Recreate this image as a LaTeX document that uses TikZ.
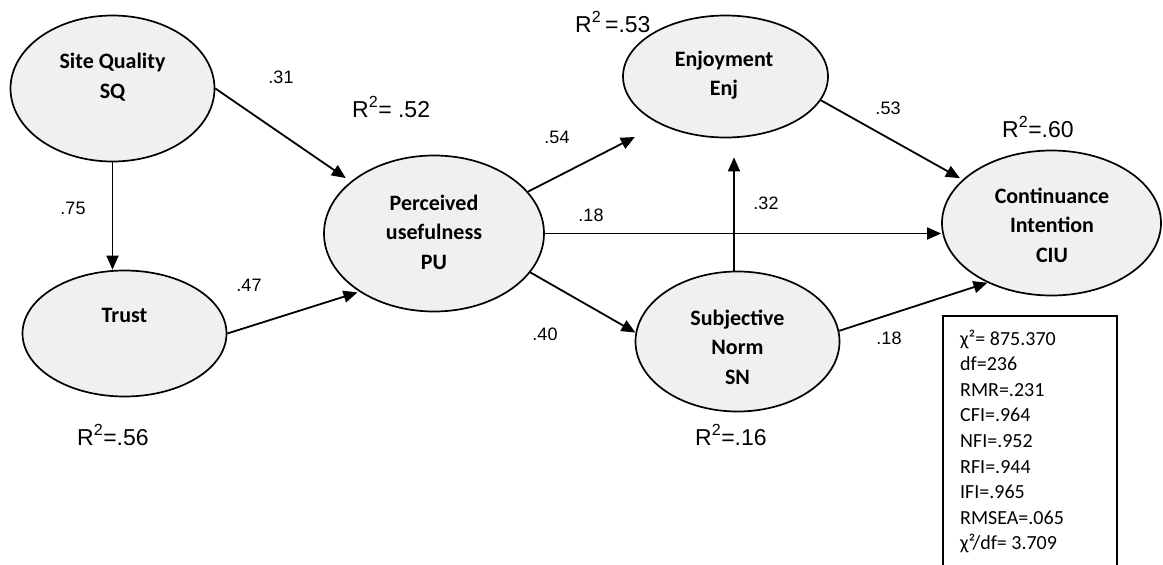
\documentclass[tikz,border=0pt]{standalone}
\usepackage{fontspec}
\setmainfont{Carlito}
\newfontfamily\arialf{Liberation Sans}
\usetikzlibrary{shapes.geometric,arrows.meta}
\begin{document}
\begin{tikzpicture}[x=1pt,y=-1pt,
  ell/.style={ellipse,draw,line width=1.7pt,fill=black!6,inner sep=0pt},
  etext/.style={font=\fontsize{22}{29.5}\selectfont\bfseries,align=center,inner sep=0pt},
  coef/.style={font=\arialf\fontsize{18}{20}\selectfont,inner sep=0pt},
  rsq/.style={font=\arialf\fontsize{23}{25}\selectfont,inner sep=0pt,anchor=base west},
  arr/.style={line width=1.8pt,-{Triangle[length=14pt,width=12pt]}}]
\useasboundingbox (0,0) rectangle (1163,565);

% latent variables
\node[ell,minimum width=204pt,minimum height=146pt] (sq) at (112.5,88.5) {};
\node[ell,minimum width=204pt,minimum height=126pt] (trust) at (124.5,333.5) {};
\node[ell,minimum width=220pt,minimum height=156pt] (pu) at (434,233.5) {};
\node[ell,minimum width=205pt,minimum height=122pt] (enj) at (725.5,76.5) {};
\node[ell,minimum width=219pt,minimum height=145pt] (ciu) at (1051.5,223) {};
\node[ell,minimum width=204pt,minimum height=140pt] (sn) at (737.5,341.5) {};

% their labels
\node[etext] (sqt) at (112.5,77) {Site Quality\\SQ};
\node[etext] (trustt) at (124.5,315) {Trust};
\node[etext] (put) at (434,232) {Perceived\\usefulness\\PU};
\node[etext] (enjt) at (724,75) {Enjoyment\\Enj};
\node[etext] (ciut) at (1052,225) {Continuance\\Intention\\CIU};
\node[etext] (snt) at (737.5,347) {Subjective\\Norm\\SN};

% paths
\draw[arr] (sq.south) -- (sq.south |- trust.north);
\draw[arr,shorten >=6pt] (sq.east) -- (pu.148);
\draw[arr,shorten >=2pt] (trust.east) -- (pu.218);
\draw[arr,shorten >=28pt] (pu.24) -- (enj.216);
\draw[arr] (pu.east) -- (pu.east -| ciu.west);
\draw[arr] (pu.338) -- (sn.175);
\draw[arr,shorten >=19pt] ([xshift=-3.5pt]sn.north) -- ([xshift=-3.5pt]sn.north |- enj.south);
\draw[arr,shorten >=3pt] (enj.346) -- (ciu.154);
\draw[arr] (sn.6) -- (ciu.223);

% path coefficients
\node[coef] (c31) at (281,77) {.31};
\node[coef] (c75) at (73,208) {.75};
\node[coef] (c47) at (249,285) {.47};
\node[coef] (c54) at (557,137) {.54};
\node[coef] (c18a) at (591,215) {.18};
\node[coef] (c32) at (766,203) {.32};
\node[coef] (c40) at (545,334) {.40};
\node[coef] (c53) at (888,108) {.53};
\node[coef] (c18b) at (889,338) {.18};

% R squared
\node[rsq] (r52) at (352,117) {R\textsuperscript{2}= .52};
\node[rsq] (r53) at (575,32) {R\textsuperscript{2}\,=.53};
\node[rsq] (r60) at (1002,137) {R\textsuperscript{2}=.60};
\node[rsq] (r56) at (77,445) {R\textsuperscript{2}=.56};
\node[rsq] (r16) at (695,445) {R\textsuperscript{2}=.16};

% fit indices
\node[draw,line width=1.8pt,anchor=north west,minimum width=174pt,minimum height=270pt,inner sep=0pt] (fitbox) at (942,315) {};
\node[anchor=north west,align=left,inner sep=0pt,font=\fontsize{20}{25.6}\selectfont] (fittext) at (960,329.5)
 {χ²= 875.370\\df=236\\RMR=.231\\CFI=.964\\NFI=.952\\RFI=.944\\IFI=.965\\RMSEA=.065\\χ²/df= 3.709};
\end{tikzpicture}
\end{document}
